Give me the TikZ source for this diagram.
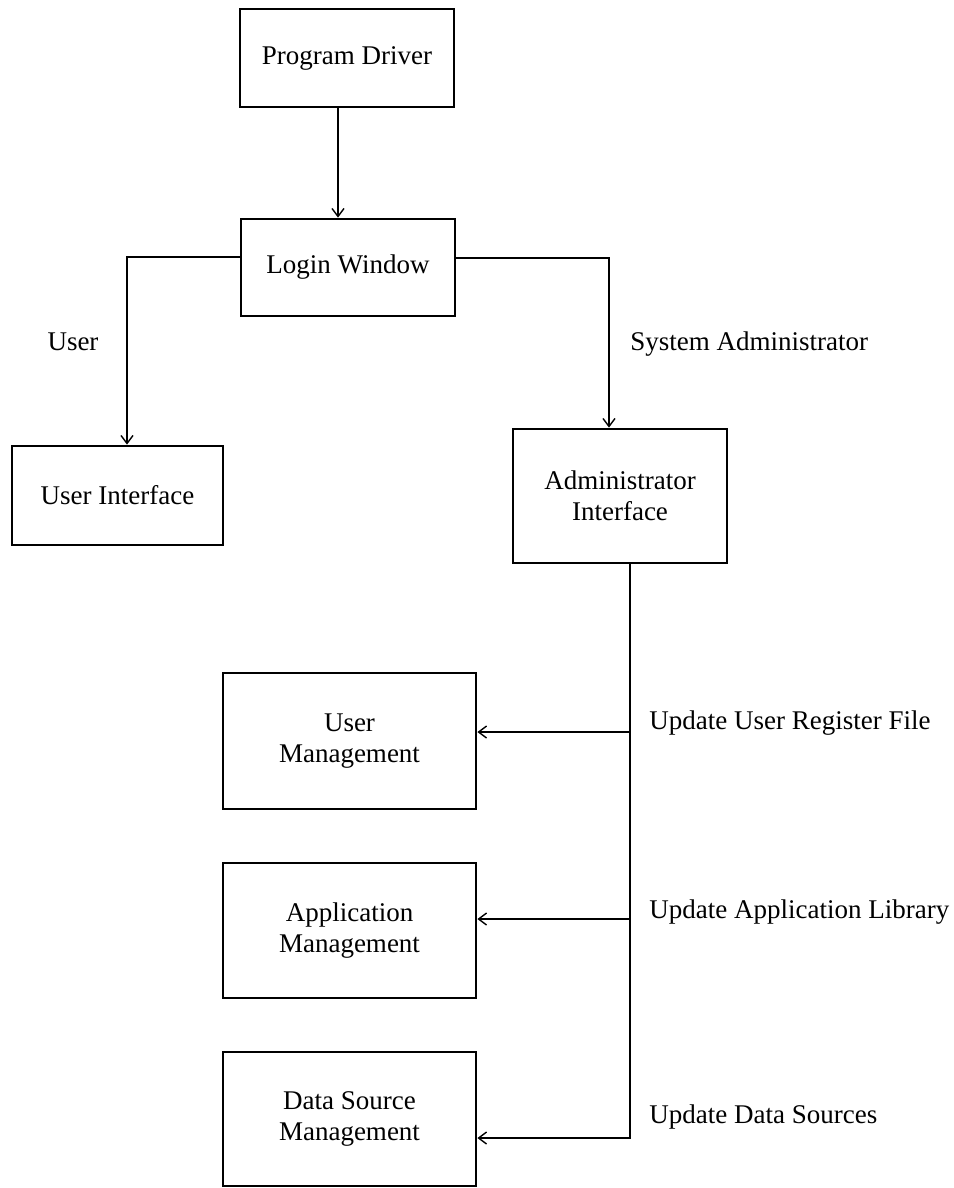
\documentclass[tikz,border=0pt]{standalone}
\usepackage{fontspec}
\setmainfont{Liberation Serif}
\usetikzlibrary{arrows.meta}
\begin{document}
\begin{tikzpicture}[x=0.5pt,y=-0.5pt,
  txt/.style={font=\fontsize{13.5}{15.5}\selectfont},
  box/.style={txt, draw, line width=1.4pt, inner sep=0pt, align=center},
  wire/.style={line width=0.7pt},
  link/.style={wire, -{Straight Barb[length=4pt,width=6pt]}},
  lbl/.style={txt, inner sep=0pt}]
\useasboundingbox (0,0) rectangle (953,1188);

% boxes
\node[box, minimum width=107pt, minimum height=49pt] (pd) at (347,58) {Program Driver};
\node[box, minimum width=107pt, minimum height=48.5pt] (login) at (348,267.5) {Login Window};
\node[box, minimum width=105.5pt, minimum height=49.5pt] (ui) at (117.5,495.5) {User Interface};
\node[box, minimum width=107pt, minimum height=67pt] (admin) at (620,496) {Administrator\\Interface};
\node[box, minimum width=126.5pt, minimum height=68pt] (um) at (349.5,741) {User\\Management};
\node[box, minimum width=126.5pt, minimum height=67.5pt] (am) at (349.5,930.5) {Application\\Management};
\node[box, minimum width=126.5pt, minimum height=67pt] (ds) at (349.5,1119) {Data Source\\Management};

% connector guide points
\coordinate (pdx) at (338,0);
\coordinate (lu) at (127,257);
\coordinate (la) at (609,258);
\coordinate (trunk) at (630,1138);
\coordinate (b1) at (630,732);
\coordinate (b2) at (630,919);

% connectors
\draw[link] (pd.south -| pdx) -- (login.north -| pdx);
\draw[link] (login.west |- lu) -| (ui.north -| lu);
\draw[link] (login.east |- la) -| (admin.north -| la);
\draw[link] (admin.south -| trunk) |- (ds.east |- trunk);
\draw[link] (b1) -- (um.east |- b1);
\draw[link] (b2) -- (am.east |- b2);

% labels
\node[lbl] (luser) at (73,342) {User};
\node[lbl, anchor=west] (lsa) at (630,344) {System Administrator};
\node[lbl, anchor=west] (l1) at (649,723) {Update User Register File};
\node[lbl, anchor=west] (l2) at (649,912) {Update Application Library};
\node[lbl, anchor=west] (l3) at (649,1117) {Update Data Sources};
\end{tikzpicture}
\end{document}
